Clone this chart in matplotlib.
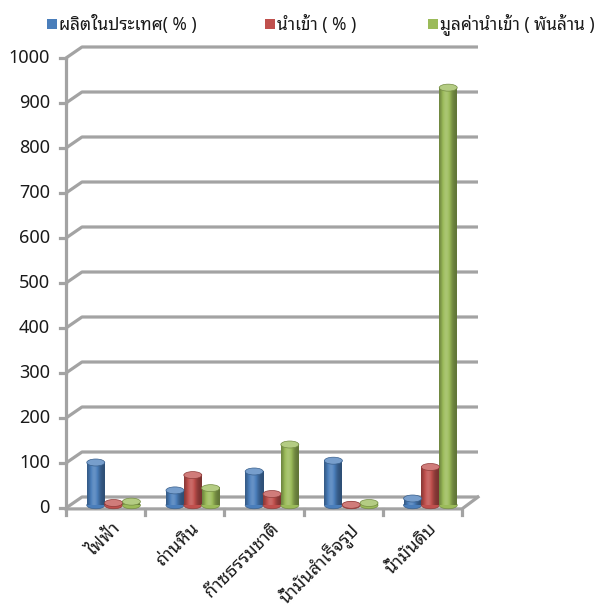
import matplotlib
matplotlib.use("Agg")
import matplotlib.pyplot as plt
import matplotlib.colors as mcolors
from matplotlib.patches import Ellipse, Rectangle
import numpy as np

plt.rcParams['font.family'] = ['Noto Sans Thai Looped', 'Noto Sans', 'DejaVu Sans']

categories = ['ไฟฟ้า', 'ถ่านหิน', 'ก๊าซธรรมชาติ', 'น้ำมันสำเร็จรูป', 'น้ำมันดิบ']
domestic = [95, 33, 75, 99, 15]
imports = [5, 67, 25, 1, 85]
import_value = [8, 38, 135, 5, 928]
series_names = ['ผลิตในประเทศ( % )', 'นำเข้า ( % )', 'มูลค่านำเข้า ( พันล้าน )']
series_colors = ['#4A7EBB', '#C0504D', '#9BBB59']
yticks = np.arange(0, 1001, 100)

W, H = 602, 606
fig = plt.figure(figsize=(W / 100, H / 100), dpi=100)
ax = fig.add_axes([0, 0, 1, 1])
ax.set_axis_off()

# pixel layout of the plot box: category 0 at x=66, 79.2 px per category,
# value 0 at y=508 (from top), 0.45 px per unit
x0_px, cat_px = 66, 79.2
y0_px, val_px = 508, 0.45

n = len(categories)
ddx, ddy = 16 / cat_px, 11 / val_px  # depth offset of the back wall
grid_c = '#A3A3A3'
lw = 2.3

# back wall gridlines with the slanted link to the front axis
for v in yticks:
    ax.plot([0, ddx, n + ddx], [v, v + ddy, v + ddy], color=grid_c, lw=lw,
            solid_capstyle='butt', zorder=1)
    ax.plot([-6 / cat_px, 0], [v, v], color=grid_c, lw=lw, zorder=1)
    ax.text(-16 / cat_px, v, str(v), ha='right', va='center', fontsize=13,
            color='#1a1a1a')

# front value axis and floor edges
ax.plot([0, 0], [0, yticks[-1]], color=grid_c, lw=lw, zorder=1)
ax.plot([0, n, n + ddx], [-2, -2, ddy], color=grid_c, lw=lw, zorder=1)
for i in range(n + 1):
    ax.plot([i, i], [-2, -2 - 6 / val_px], color=grid_c, lw=lw, zorder=1)

# cylinder shading: dark rims with a highlight left of centre
t = np.linspace(0, 1, 64)
shade = 0.62 + 0.55 * np.exp(-((t - 0.4) / 0.3) ** 2)


def shaded(color):
    rgb = np.array(mcolors.to_rgb(color))
    out = np.clip(rgb[None, :] * shade[:, None], 0, 1)
    lift = rgb + (1 - rgb) * (shade[:, None] - 1) * 0.9
    out = np.where(shade[:, None] > 1, lift, out)
    return out[None, :, :]


bw = 18 / cat_px
cap_h = 7 / val_px
series = [domestic, imports, import_value]
for s, (vals, col) in enumerate(zip(series, series_colors)):
    img = shaded(col)
    dark = np.array(mcolors.to_rgb(col)) * 0.75
    light = np.array(mcolors.to_rgb(col)) * 0.75 + 0.25
    for i, v in enumerate(vals):
        cx = i + 0.5 + ddx / 2 + (s - 1) * 0.225
        base = ddy / 4
        ax.add_patch(Ellipse((cx, base), bw, cap_h, facecolor=col, edgecolor=dark,
                             lw=0.5, zorder=3))
        ax.imshow(img, extent=(cx - bw / 2, cx + bw / 2, base, base + v),
                  aspect='auto', zorder=3, interpolation='bilinear')
        ax.add_patch(Ellipse((cx, base + v), bw, cap_h, facecolor=light,
                             edgecolor=dark, lw=0.5, zorder=4))

ax.set_xlim((0 - x0_px) / cat_px, (W - x0_px) / cat_px)
ax.set_ylim((y0_px - H) / val_px, y0_px / val_px)

# category labels, rotated
for i, name in enumerate(categories):
    ax.text(i + 0.57, -25, name, rotation=45, rotation_mode='anchor',
            ha='right', va='top', fontsize=13, color='#1a1a1a')

# legend along the top
leg_y = (y0_px - 24) / val_px
leg_x = [47, 265, 428]
for name, col, lx in zip(series_names, series_colors, leg_x):
    ax.add_patch(Rectangle(((lx - x0_px) / cat_px, leg_y - 5 / val_px),
                           10 / cat_px, 10 / val_px, facecolor=col, edgecolor='none'))
    ax.text((lx + 12 - x0_px) / cat_px, leg_y, name, ha='left', va='center',
            fontsize=12.5, color='#1a1a1a')

fig.savefig('out.png', dpi=100)
